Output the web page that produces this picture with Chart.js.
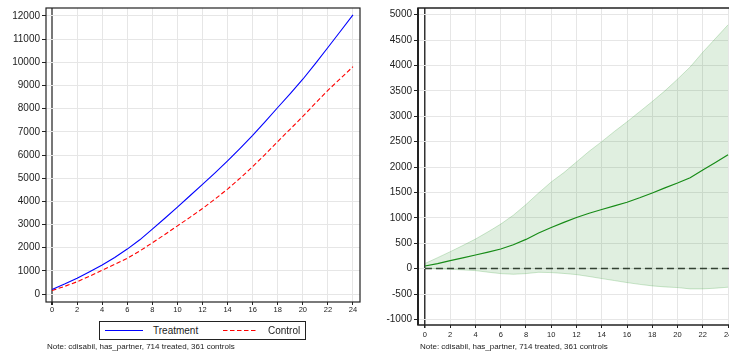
<!DOCTYPE html>
<html>
<head>
<meta charset="utf-8">
<script src="https://cdn.jsdelivr.net/npm/chart.js@4.4.1/dist/chart.umd.min.js"></script>
<style>
  body { margin: 0; width: 729px; height: 356px; overflow: hidden; background: #fff; position: relative; font-family: 'Liberation Sans', Arial, sans-serif; }
  canvas { position: absolute; top: 0; }
  .note { position: absolute; top: 342px; font-size: 8px; line-height: 10px; color: #222; white-space: nowrap; }
  #legend { position: absolute; left: 99px; top: 321px; width: 207px; height: 19px; border: 1px solid #222; box-sizing: border-box; font-size: 10px; color: #222; }
  #legend span { position: absolute; top: 3px; line-height: 11px; }
  #legend svg { position: absolute; left: 0; top: 0; }
</style>
</head>
<body>
<canvas id="leftChart" width="370" height="316" style="left:0"></canvas>
<canvas id="rightChart" width="368" height="339" style="left:372px"></canvas>
<div id="legend">
  <svg width="205" height="17"><line x1="5" y1="8.5" x2="43" y2="8.5" stroke="#0000ff" stroke-width="1.1"/><line x1="123" y1="8.5" x2="157" y2="8.5" stroke="#ff0000" stroke-width="1.1" stroke-dasharray="4.5 2.5"/></svg>
  <span style="left:53px">Treatment</span>
  <span style="left:168px">Control</span>
</div>
<div class="note" style="left:47px">Note: cdisabil, has_partner, 714 treated, 361 controls</div>
<div class="note" style="left:420px">Note: cdisabil, has_partner, 714 treated, 361 controls</div>
<script>
// months since start
const months = [0,1,2,3,4,5,6,7,8,9,10,11,12,13,14,15,16,17,18,19,20,21,22,23,24];

// left panel: cumulative outcome
const treatment = [200,430,680,960,1250,1580,1940,2340,2800,3270,3750,4240,4730,5230,5750,6290,6850,7440,8050,8650,9270,9940,10640,11340,12050];
const control = [150,330,530,770,1030,1280,1540,1860,2210,2570,2940,3310,3690,4100,4530,5000,5500,6030,6580,7120,7670,8230,8790,9300,9810];

// right panel: difference with confidence band
const diff = [52,100,157,210,268,325,386,470,575,700,810,910,1007,1090,1163,1235,1307,1395,1490,1590,1686,1790,1940,2090,2240];
const ciUpper = [100,215,333,455,582,725,876,1052,1261,1490,1706,1890,2100,2310,2500,2700,2890,3090,3290,3500,3730,3970,4260,4530,4800];
const ciLower = [0,-5,-13,-25,-39,-70,-98,-111,-98,-72,-78,-95,-118,-155,-196,-235,-275,-310,-340,-360,-373,-399,-399,-385,-366];

// tick labels
const xTicks = [0,2,4,6,8,10,12,14,16,18,20,22,24];
const leftYTicks = [0,1000,2000,3000,4000,5000,6000,7000,8000,9000,10000,11000,12000];
const rightYTicks = [-1000,-500,0,500,1000,1500,2000,2500,3000,3500,4000,4500,5000];

Chart.defaults.font.family = "'Liberation Sans', Arial, sans-serif";
Chart.defaults.color = '#222';

const pts = (ys) => months.map((m, i) => ({x: m, y: ys[i]}));

const frame = {
  id: 'frame',
  afterDraw(chart, args, opts) {
    const a = chart.chartArea, c = chart.ctx;
    c.save();
    c.strokeStyle = '#222';
    c.lineWidth = opts.width || 1.2;
    c.strokeRect(a.left, a.top, a.right - a.left, a.bottom - a.top);
    if (opts.leftWidth) {
      c.lineWidth = opts.leftWidth;
      c.beginPath();
      c.moveTo(a.left, a.top);
      c.lineTo(a.left, a.bottom);
      c.stroke();
    }
    c.restore();
  }
};

function makeScales(xmin, xmax, ymin, ymax, yTicks, zeroColor, zeroWidth, xPad) {
  return {
    x: {
      type: 'linear', min: xmin, max: xmax,
      afterBuildTicks: s => { s.ticks = xTicks.map(v => ({value: v})); },
      afterFit: s => { s.height = 14; },
      border: {display: false},
      grid: {
        color: ctx => (ctx.tick && ctx.tick.value === 0) ? zeroColor : '#e6e6e6',
        lineWidth: ctx => (ctx.tick && ctx.tick.value === 0) ? zeroWidth : 1,
        tickColor: '#222', tickLength: 3
      },
      ticks: {font: {size: 7.5}, padding: xPad, maxRotation: 0, autoSkip: false, callback: v => String(v)}
    },
    y: {
      type: 'linear', min: ymin, max: ymax,
      afterBuildTicks: s => { s.ticks = yTicks.map(v => ({value: v})); },
      afterFit: s => { s.width = 46; },
      border: {display: false},
      grid: {color: '#e6e6e6', lineWidth: 1, tickColor: '#222', tickLength: 4},
      ticks: {font: {size: 10}, padding: 2, autoSkip: false, callback: v => String(v)}
    }
  };
}

new Chart(document.getElementById('leftChart'), {
  type: 'line',
  data: {
    datasets: [{
      label: 'Treatment',
      data: pts(treatment),
      borderColor: '#0000ff',
      borderWidth: 1.1,
      pointRadius: 0,
      tension: 0
    }, {
      label: 'Control',
      data: pts(control),
      borderColor: '#ff0000',
      borderWidth: 1.1,
      borderDash: [4.5, 2.5],
      pointRadius: 0,
      tension: 0
    }]
  },
  options: {
    responsive: false,
    animation: false,
    devicePixelRatio: 1,
    layout: {padding: {top: 7, right: 10, left: 0, bottom: 0}},
    plugins: {legend: {display: false}, tooltip: {enabled: false}, frame: {width: 1.2}},
    scales: makeScales(-0.48, 24.56, -344, 12344, leftYTicks, '#777', 2, 0)
  },
  plugins: [frame]
});

new Chart(document.getElementById('rightChart'), {
  type: 'line',
  data: {
    datasets: [{
      label: 'Upper',
      data: pts(ciUpper),
      borderColor: 'rgba(60,160,60,0.25)',
      borderWidth: 1,
      backgroundColor: 'rgba(50,150,50,0.15)',
      fill: '+1',
      pointRadius: 0,
      tension: 0
    }, {
      label: 'Lower',
      data: pts(ciLower),
      borderColor: 'rgba(60,160,60,0.25)',
      borderWidth: 1,
      fill: false,
      pointRadius: 0,
      tension: 0
    }, {
      label: 'Difference',
      data: pts(diff),
      borderColor: '#138a13',
      borderWidth: 1.2,
      fill: false,
      pointRadius: 0,
      tension: 0
    }, {
      label: 'Zero',
      data: [{x: 0, y: 0}, {x: 24.55, y: 0}],
      borderColor: '#333',
      borderWidth: 1.5,
      borderDash: [7, 4],
      fill: false,
      pointRadius: 0
    }]
  },
  options: {
    responsive: false,
    animation: false,
    devicePixelRatio: 1,
    layout: {padding: {top: 7, right: 5, left: 0, bottom: 0}},
    plugins: {legend: {display: false}, tooltip: {enabled: false}, frame: {width: 1.5, leftWidth: 2}},
    scales: makeScales(-0.55, 24.55, -1110, 5131, rightYTicks, '#333', 1.5, 2)
  },
  plugins: [frame]
});
</script>
</body>
</html>
